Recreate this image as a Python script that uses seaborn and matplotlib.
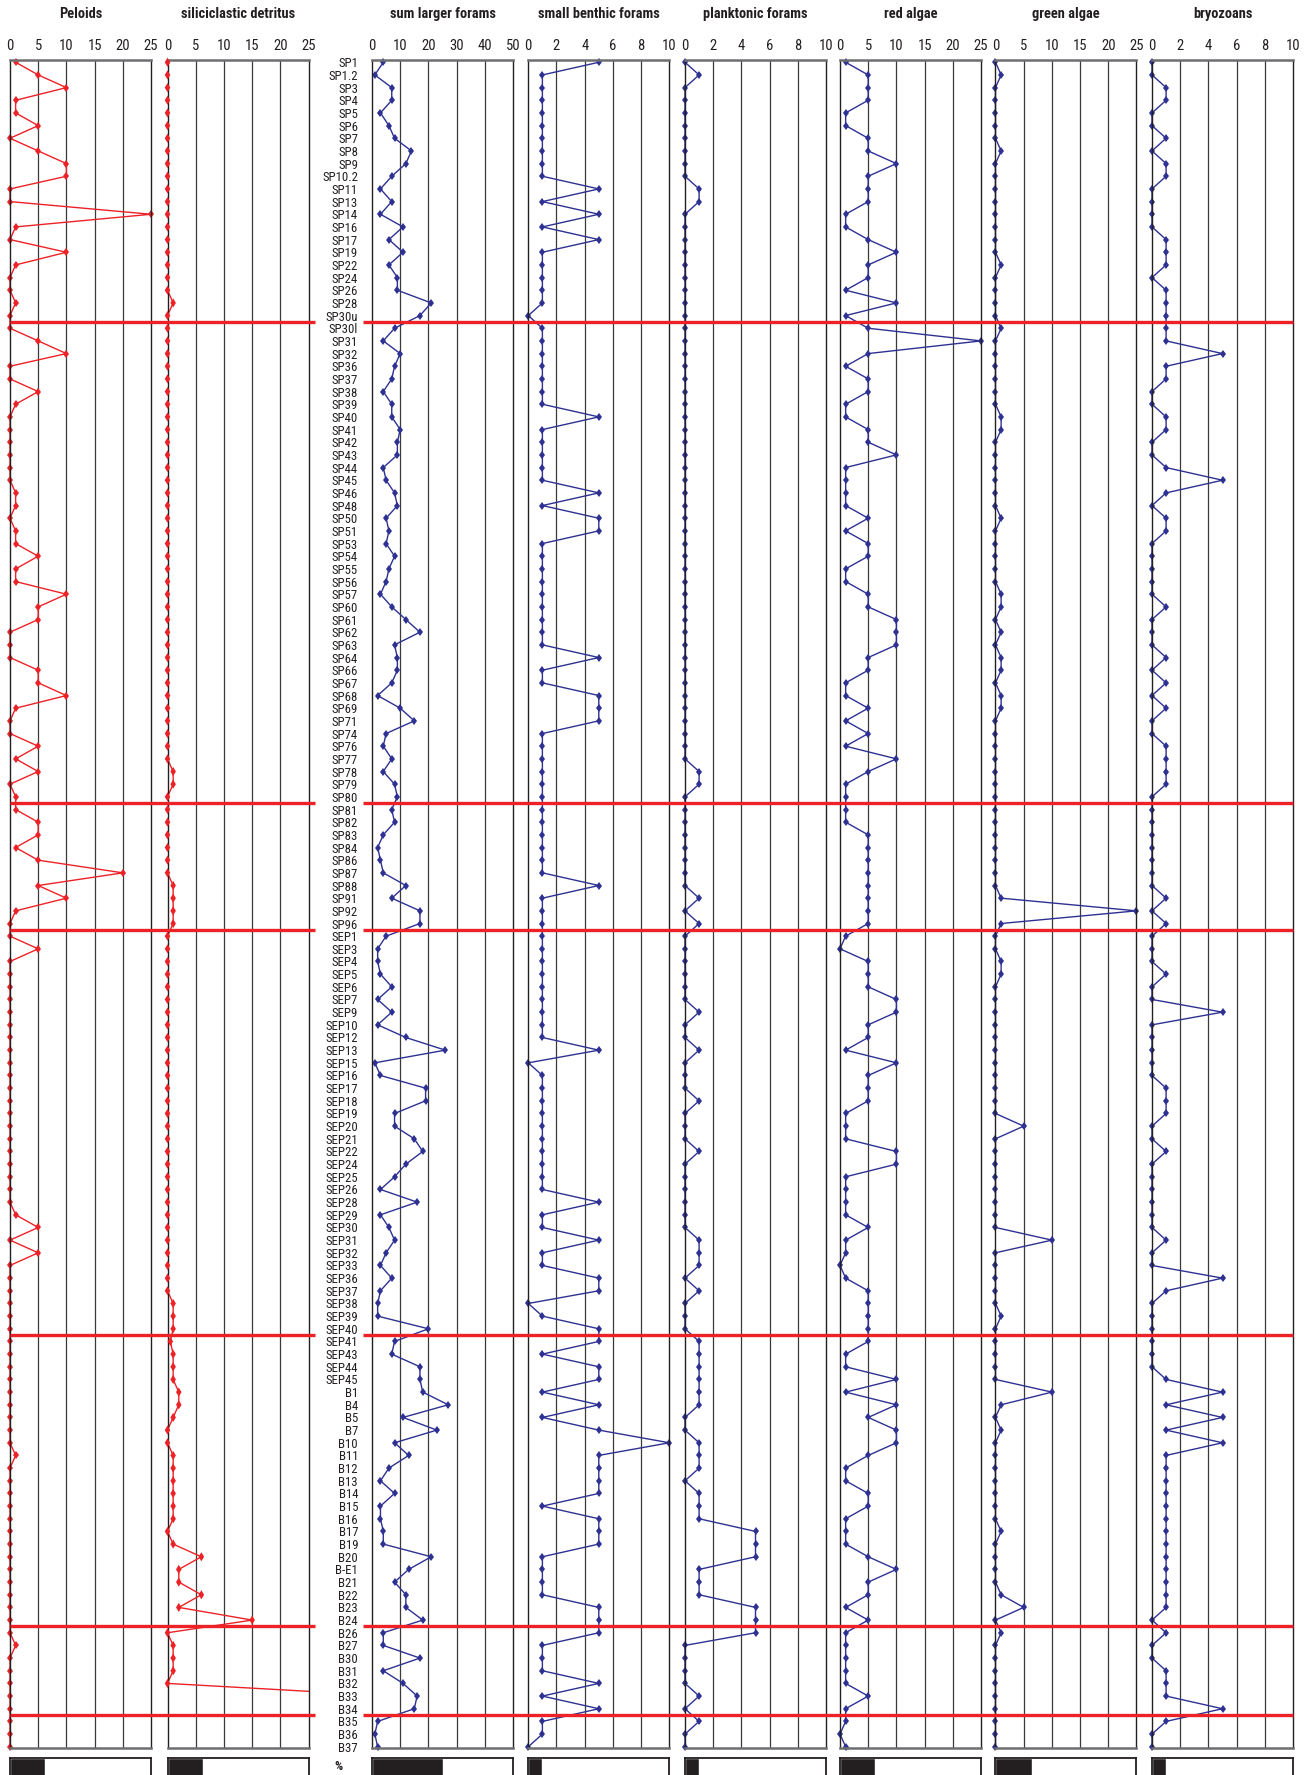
import numpy as np
import pandas as pd
import seaborn as sns
import matplotlib
matplotlib.use("Agg")
import matplotlib.pyplot as plt
from matplotlib.lines import Line2D
from matplotlib import font_manager

# ---------------- data ----------------
samples = ["SP1","SP1.2","SP3","SP4","SP5","SP6","SP7","SP8","SP9","SP10.2","SP11","SP13","SP14","SP16",
           "SP17","SP19","SP22","SP24","SP26","SP28","SP30u","SP30l","SP31","SP32","SP36","SP37","SP38",
           "SP39","SP40","SP41","SP42","SP43","SP44","SP45","SP46","SP48","SP50","SP51","SP53","SP54",
           "SP55","SP56","SP57","SP60","SP61","SP62","SP63","SP64","SP66","SP67","SP68","SP69","SP71",
           "SP74","SP76","SP77","SP78","SP79","SP80","SP81","SP82","SP83","SP84","SP86","SP87","SP88",
           "SP91","SP92","SP96","SEP1","SEP3","SEP4","SEP5","SEP6","SEP7","SEP9","SEP10","SEP12","SEP13",
           "SEP15","SEP16","SEP17","SEP18","SEP19","SEP20","SEP21","SEP22","SEP24","SEP25","SEP26","SEP28",
           "SEP29","SEP30","SEP31","SEP32","SEP33","SEP36","SEP37","SEP38","SEP39","SEP40","SEP41","SEP43",
           "SEP44","SEP45","B1","B4","B5","B7","B10","B11","B12","B13","B14","B15","B16","B17","B19","B20",
           "B-E1","B21","B22","B23","B24","B26","B27","B30","B31","B32","B33","B34","B35","B36","B37"]

peloids = [1,5,10,1,1,5,0,5,10,10,0,0,25,1,0,10,1,0,0,1,
           0,0,5,10,0,0,5,1,0,0,0,0,0,0,1,1,0,1,1,5,
           1,1,10,5,5,0,0,0,5,5,10,1,0,0,5,1,5,0,1,1,
           5,5,1,5,20,5,10,1,0,0,5,0,0,0,0,0,0,0,0,0,
           0,0,0,0,0,0,0,0,0,0,0,1,5,0,5,0,0,0,0,0,
           0,0,0,0,0,0,0,0,0,0,1,0,0,0,0,0,0,0,0,0,
           0,0,0,0,0,1,0,0,0,0,0,0,0,0]

siliciclastic = [0,0,0,0,0,0,0,0,0,0,0,0,0,0,0,0,0,0,0,1,
                 0,0,0,0,0,0,0,0,0,0,0,0,0,0,0,0,0,0,0,0,
                 0,0,0,0,0,0,0,0,0,0,0,0,0,0,0,0,1,1,0,0,
                 0,0,0,0,0,1,1,1,1,0,0,0,0,0,0,0,0,0,0,0,
                 0,0,0,0,0,0,0,0,0,0,0,0,0,0,0,0,0,0,1,1,
                 1,0.5,1,1,1,2,2,1,0,0,1,1,1,1,1,1,0,1,6,2,
                 2,6,2,15,0,1,1,1,0,40,42,42,42,42]

larger_forams = [4,1,7,7,3,6,8,14,12,7,3,7,3,11,6,11,6,9,9,21,
                 17,8,4,10,8,7,4,7,7,10,9,9,4,5,8,9,5,6,5,8,
                 6,5,3,7,12,17,8,9,9,7,2,10,15,5,4,7,4,8,9,7,
                 8,4,2,3,4,12,7,17,17,5,2,2,3,7,2,7,2,12,26,1,
                 3,19,19,8,8,15,18,12,8,3,16,3,6,8,5,3,7,3,2,2,
                 20,8,7,17,17,18,27,11,23,8,13,6,3,8,3,3,4,4,21,13,
                 8,12,12,18,4,4,17,4,11,16,15,2,1,2]

small_benthic = [5,1,1,1,1,1,1,1,1,1,5,1,5,1,5,1,1,1,1,1,
                 0,1,1,1,1,1,1,1,5,1,1,1,1,1,5,1,5,5,1,1,
                 1,1,1,1,1,1,1,5,1,1,5,5,5,1,1,1,1,1,1,1,
                 1,1,1,1,1,5,1,1,1,1,1,1,1,1,1,1,1,1,5,0,
                 1,1,1,1,1,1,1,1,1,1,5,1,1,5,1,1,5,5,0,1,
                 5,5,1,5,5,1,5,1,5,10,5,5,5,5,1,5,5,5,1,1,
                 1,1,5,5,5,1,1,1,5,1,5,1,1,0]

planktonic = [0,1,0,0,0,0,0,0,0,0,1,1,0,0,0,0,0,0,0,0,
              0,0,0,0,0,0,0,0,0,0,0,0,0,0,0,0,0,0,0,0,
              0,0,0,0,0,0,0,0,0,0,0,0,0,0,0,0,1,1,0,0,
              0,0,0,0,0,0,1,0,1,0,0,0,0,0,0,1,0,0,1,0,
              0,0,1,0,0,0,1,0,0,0,0,0,0,1,1,1,0,1,0,0,
              0,1,1,1,1,1,1,0,0,1,1,1,0,1,1,1,5,5,5,1,
              1,1,5,5,5,0,0,0,0,1,0,1,0,0]

red_algae = [1,5,5,5,1,1,5,5,10,5,5,5,1,1,5,10,5,5,1,10,
             1,5,25,5,1,5,5,1,1,5,5,10,1,1,1,1,5,1,5,5,
             1,1,5,5,10,10,10,5,5,1,1,5,1,5,1,10,5,1,1,1,
             1,5,5,5,5,5,5,5,5,1,0,5,5,5,10,10,5,5,1,10,
             5,5,5,1,1,1,10,10,1,1,1,1,5,1,1,0,1,5,5,5,
             5,5,1,1,10,1,10,5,10,10,5,1,1,5,5,1,1,1,5,10,
             5,5,1,5,1,1,1,1,1,5,1,1,0,1]

green_algae = [0,1,0,0,0,0,0,1,0,0,0,0,0,0,0,0,1,0,0,0,
               0,1,0,0,0,0,0,0,1,1,0,0,0,0,0,0,1,0,0,0,
               0,0,1,1,0,1,0,1,1,0,1,1,0,0,0,0,0,0,0,0,
               0,0,0,0,0,0,1,25,1,0,0,1,1,0,0,0,0,0,0,0,
               0,0,0,0,5,0,0,0,0,0,0,0,0,10,0,0,0,0,0,1,
               0,0,0,0,0,10,1,0,1,0,0,0,0,0,0,0,1,0,0,0,
               0,1,5,0,1,0,0,0,0,0,0,0,0,0]

bryozoans = [0,0,1,1,0,0,1,0,1,1,0,0,0,0,1,1,1,0,1,1,
             1,1,1,5,1,1,0,0,1,1,0,0,1,5,1,0,1,1,0,0,
             0,0,0,1,0,0,0,1,0,1,0,1,0,0,1,1,1,1,0,0,
             0,0,0,0,0,0,1,0,1,0,0,0,1,0,0,5,0,0,0,0,
             0,1,1,1,0,0,1,0,0,0,0,0,0,1,0,0,5,1,0,0,
             0,0,0,0,1,5,1,5,1,5,1,1,1,1,1,1,1,1,1,1,
             1,1,1,0,1,0,0,1,1,1,5,1,0,0]

titles = ["Peloids", "siliciclastic detritus", "sum larger forams", "small benthic forams",
          "planktonic forams", "red algae", "green algae", "bryozoans"]
series = [peloids, siliciclastic, larger_forams, small_benthic, planktonic, red_algae,
          green_algae, bryozoans]
xmax = [25, 25, 50, 10, 10, 25, 25, 10]
xstep = [5, 5, 10, 2, 2, 5, 5, 2]
scale_bar = [6.25, 6.25, 25, 1, 1, 6.25, 6.5, 1]
unit_label = "%"
# red boundaries after these samples
boundaries_after = ["SP30u", "SP80", "SP96", "SEP40", "B24", "B34"]

# ---------------- style ----------------
sns.set_theme(style="white")
avail = {f.name for f in font_manager.fontManager.ttflist}
cands = ["Liberation Sans Narrow", "DejaVu Sans Condensed", "Roboto Condensed",
         "Open Sans Condensed", "Liberation Sans", "Roboto"]
chosen = [c for c in cands if c in avail]
fam = chosen[0] if chosen else "DejaVu Sans"
narrow_font = fam in ("Liberation Sans Narrow", "DejaVu Sans Condensed", "Roboto Condensed",
                      "Open Sans Condensed")
plt.rcParams["font.family"] = [fam, "DejaVu Sans"]

lab_fs = 9.2 if narrow_font else 7.6
tick_fs = 10.5 if narrow_font else 8.8
title_fs = 10.4 if narrow_font else 8.8

RED = "#ec2227"
BLUE = "#2e3192"
W, H = 1316, 1775
fig = plt.figure(figsize=(W / 100, H / 100), dpi=100)
fig.patch.set_facecolor("white")

lefts = [10, 167.5, 372, 528.3, 685, 840, 995.5, 1152]
pw = 141
top_px, bot_px = 60, 1748
n = len(samples)
idx = np.arange(n)
ylo, yhi = n - 1 + 0.1, -0.18

axes = []
for k in range(8):
    ax = fig.add_axes([lefts[k] / W, 1 - bot_px / H, pw / W, (bot_px - top_px) / H])
    axes.append(ax)
    color = RED if k < 2 else BLUE
    df = pd.DataFrame({"value": series[k], "row": idx})
    if k == 1:
        sns.lineplot(data=df, x="value", y="row", orient="y", sort=False, estimator=None,
                     color=color, linewidth=1.0, ax=ax)
        inside = df[df["value"] <= xmax[k]]
        sns.scatterplot(data=inside, x="value", y="row", marker="d", s=22, color=color,
                        edgecolor="none", ax=ax, clip_on=False, zorder=4)
    else:
        sns.lineplot(data=df, x="value", y="row", orient="y", sort=False, estimator=None,
                     color=color, linewidth=1.0, marker="d", markersize=4.5,
                     markeredgewidth=0, ax=ax)
        for ln in ax.lines:
            ln.set_clip_on(False)
    ax.set_xlim(0, xmax[k])
    ax.set_ylim(ylo, yhi)
    ax.set_xlabel("")
    ax.set_ylabel("")
    ticks = np.arange(0, xmax[k] + 0.01, xstep[k])
    ax.set_xticks(ticks)
    ax.set_xticklabels([f"{t:g}" for t in ticks])
    ax.xaxis.set_ticks_position("top")
    ax.tick_params(axis="x", top=True, bottom=False, labeltop=True, labelbottom=False,
                   length=0, pad=5, labelsize=tick_fs, colors="#231f20")
    for t in ticks[1:-1]:
        ax.axvline(t, color="#3a3a3a", lw=0.9, zorder=0)
    for s in ["left", "right"]:
        ax.spines[s].set_color("#231f20")
        ax.spines[s].set_linewidth(1.0)
    for s in ["top", "bottom"]:
        ax.spines[s].set_color("#6d6e71")
        ax.spines[s].set_linewidth(1.8)
    if k == 2:
        ax.set_yticks(idx)
        ax.set_yticklabels(samples)
        ax.tick_params(axis="y", left=False, length=0, pad=10, labelsize=lab_fs, colors="#231f20")
    else:
        ax.set_yticks([])
    fig.text((lefts[k] + pw / 2) / W, 1 - 14 / H, titles[k], ha="center", va="center",
             fontsize=title_fs, fontweight="bold", color="#231f20")

    # scale boxes at the bottom
    bx = fig.add_axes([lefts[k] / W, 1 - 1795 / H, pw / W, (1795 - 1758) / H])
    bx.barh([0], [scale_bar[k]], height=2, left=0, color="#231f20")
    bx.set_xlim(0, xmax[k])
    bx.set_ylim(-1, 1)
    bx.set_xticks([])
    bx.set_yticks([])
    for s in bx.spines.values():
        s.set_color("#231f20")
        s.set_linewidth(1.3)

fig.text(338 / W, 1 - 1767 / H, unit_label, ha="center", va="center", fontsize=lab_fs,
         fontweight="bold", color="#231f20")

# red boundary lines
fig.canvas.draw()
inv = fig.transFigure.inverted()
for name in boundaries_after:
    r = samples.index(name) + 0.5
    _, yd = axes[2].transData.transform((0, r))
    yf = inv.transform((0, yd))[1]
    for x0, x1 in [(10, 315), (363, 1293)]:
        fig.add_artist(Line2D([x0 / W, x1 / W], [yf, yf], color=RED, lw=2.4,
                              solid_capstyle="butt", zorder=10))

fig.savefig("out.png", dpi=100, facecolor="white")
